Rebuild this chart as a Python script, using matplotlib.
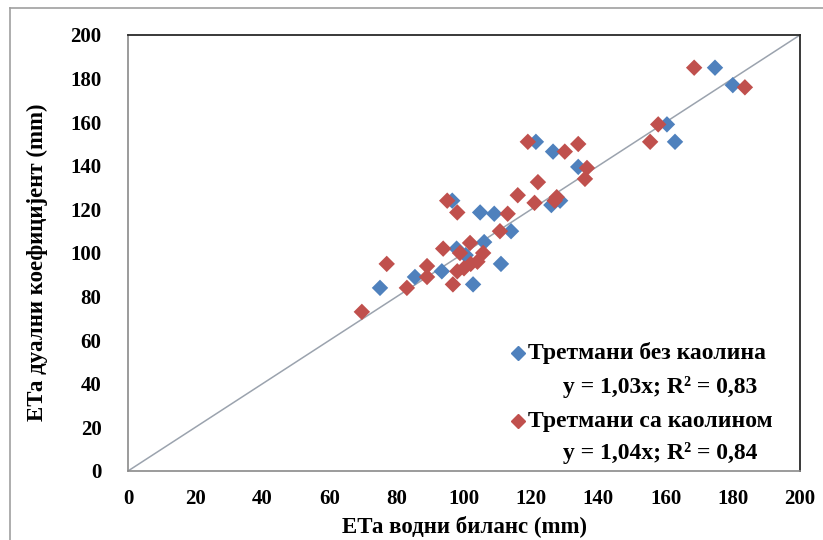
import matplotlib
matplotlib.use("Agg")
import matplotlib.pyplot as plt
from matplotlib.lines import Line2D

# Data: ETa water balance (x) vs ETa dual coefficient (y)
blue_x = [75, 85.4, 93.4, 97.8, 102.7, 104.8, 106, 109, 111, 114, 96.5, 100.5,
          121.4, 126.5, 126, 128.6, 134, 160.4, 162.8, 174.7, 180]
blue_y = [84, 89, 91.6, 102, 85.6, 118.6, 105, 118, 95, 110, 124, 99,
          151, 146.5, 122, 124, 139.5, 159, 151, 185, 177]

red_x = [69.6, 77, 83, 89, 89, 96.7, 98, 93.8, 95, 98, 101.8, 98.8, 100, 102,
         104, 105.7, 110.7, 113, 116, 119, 121, 122, 127, 127.6, 130, 134,
         136.6, 136, 155.4, 157.8, 168.5, 183.6]
red_y = [73, 95, 84, 94, 89, 85.6, 91.6, 102, 124, 118.6, 104.6, 100, 93, 95,
         96, 100, 110, 118, 126.5, 151, 123, 132.5, 124, 125.6, 146.5, 150,
         139, 134, 151, 159, 185, 176]

line_x = [0, 200]
line_y = [0, 200]

xticks = list(range(0, 201, 20))
yticks = list(range(0, 201, 20))

blue_label = "Третмани без каолина"
blue_eq = "y = 1,03x; R² = 0,83"
red_label = "Третмани са каолином"
red_eq = "y = 1,04x; R² = 0,84"

BLUE = "#4F81BD"
RED = "#C0504D"
FONT = "Liberation Serif"

fig = plt.figure(figsize=(8.23, 5.40), dpi=100)
fig.patch.set_facecolor("white")
ax = fig.add_axes([128/823, 1-471/540, (800-128)/823, (471-35)/540])

ax.plot(line_x, line_y, color="#9BA3AE", lw=1.1, zorder=1)
ax.scatter(blue_x, blue_y, marker="D", s=70, color=BLUE, edgecolors="none", zorder=3)
ax.scatter(red_x, red_y, marker="D", s=70, color=RED, edgecolors="none", zorder=3)

ax.set_xlim(0, 200)
ax.set_ylim(0, 200)
ax.set_xticks(xticks)
ax.set_yticks(yticks)
ax.set_xticklabels([str(t) for t in xticks])
ax.set_yticklabels([str(t) for t in yticks])
ax.tick_params(length=0, labelsize=15)
ax.tick_params(axis="x", pad=13)
ax.tick_params(axis="y", pad=19)
for lab in ax.get_xticklabels() + ax.get_yticklabels():
    lab.set_fontfamily(FONT)
    lab.set_fontweight("bold")

for side in ["left", "bottom"]:
    ax.spines[side].set_color("#8A8A8A")
    ax.spines[side].set_linewidth(1.2)
for side in ["top", "right"]:
    ax.spines[side].set_color("#2A2A2A")
    ax.spines[side].set_linewidth(1.3)

ax.set_xlabel("ЕТа водни биланс (mm)", fontfamily=FONT, fontweight="bold",
              fontsize=16.5, labelpad=4)
fig.text(37/823, 1-262/540, "ЕТа дуални коефицијент (mm)", rotation=90,
         ha="center", va="center", fontfamily=FONT, fontweight="bold", fontsize=16.5)

# legend-like annotation
ax.plot([0.58], [0.271], transform=ax.transAxes, marker="D", ms=7,
        color=BLUE, ls="none", clip_on=False)
ax.text(0.595, 0.271, blue_label, transform=ax.transAxes, fontfamily=FONT,
        fontweight="bold", fontsize=17, va="center", ha="left")
ax.text(0.792, 0.192, blue_eq, transform=ax.transAxes, fontfamily=FONT,
        fontweight="bold", fontsize=17, va="center", ha="center")
ax.plot([0.58], [0.114], transform=ax.transAxes, marker="D", ms=7,
        color=RED, ls="none", clip_on=False)
ax.text(0.595, 0.114, red_label, transform=ax.transAxes, fontfamily=FONT,
        fontweight="bold", fontsize=17, va="center", ha="left")
ax.text(0.792, 0.042, red_eq, transform=ax.transAxes, fontfamily=FONT,
        fontweight="bold", fontsize=17, va="center", ha="center")

# outer frame (left and top)
fig.add_artist(Line2D([10/823, 10/823], [0, 1-8/540], color="#A0A0A0", lw=1.2,
                      transform=fig.transFigure))
fig.add_artist(Line2D([10/823, 1], [1-8/540, 1-8/540], color="#A0A0A0", lw=1.2,
                      transform=fig.transFigure))

fig.savefig("out.png", dpi=100, facecolor="white")
